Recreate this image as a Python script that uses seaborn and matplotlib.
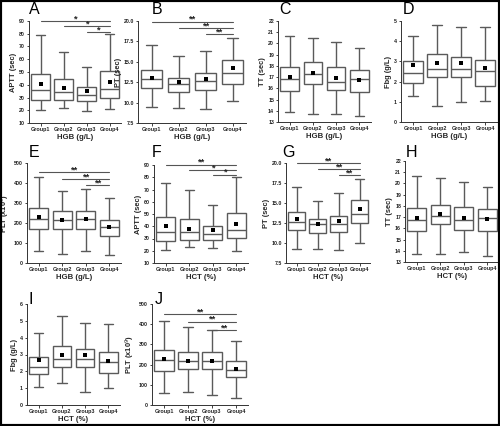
import matplotlib
matplotlib.use("Agg")
import matplotlib.pyplot as plt
from matplotlib.patches import Rectangle
import seaborn as sns
import pandas as pd
import numpy as np

groups = ["Group1", "Group2", "Group3", "Group4"]

# ---- Panel A: APTT vs HGB ----
A_lo = [20.5, 21.6, 19.5, 21.3]
A_q1 = [27.9, 28.4, 27.4, 29.7]
A_med = [35.8, 34.7, 32.1, 36.5]
A_q3 = [48.4, 44.2, 38.4, 50.5]
A_hi = [78.7, 65.5, 54.2, 79.5]
A_mean = [40.5, 37.6, 35.0, 41.8]
A_sig_y = [90, 86, 81]
A_sig_txt = ["*", "*", "*"]

# ---- Panel B: PT vs HGB ----
B_lo = [9.4, 9.34, 9.2, 10.15]
B_q1 = [11.8, 11.25, 11.6, 12.24]
B_med = [12.85, 12.3, 12.6, 13.6]
B_q3 = [13.95, 13.05, 13.67, 15.18]
B_hi = [17.1, 15.67, 16.3, 17.9]
B_mean = [13.05, 12.48, 12.9, 14.2]
B_sig_y = [19.9, 19.1, 18.35]
B_sig_txt = ["**", "**", "**"]

# ---- Panel C: TT vs HGB ----
C_lo = [13.9, 13.68, 13.68, 13.53]
C_q1 = [15.75, 16.43, 15.85, 15.66]
C_med = [16.85, 17.32, 16.6, 16.8]
C_q3 = [17.9, 18.33, 17.9, 17.6]
C_hi = [20.7, 20.5, 20.1, 19.6]
C_mean = [17.0, 17.35, 16.95, 16.72]

# ---- Panel D: Fbg vs HGB ----
D_lo = [1.3, 0.8, 1.0, 1.02]
D_q1 = [1.92, 2.24, 2.21, 1.79]
D_med = [2.41, 2.6, 2.64, 2.54]
D_q3 = [3.0, 3.36, 3.23, 3.06]
D_hi = [4.26, 4.82, 4.7, 4.7]
D_mean = [2.8, 2.9, 2.93, 2.65]

# ---- Panel E: PLT vs HGB ----
E_lo = [58, 45, 60, 40]
E_q1 = [170, 169, 170, 137]
E_med = [222, 215, 218, 179]
E_q3 = [276, 262, 258, 215]
E_hi = [430, 362, 371, 325]
E_mean = [230, 216, 218, 180]
E_sig_y = [453, 420, 390]
E_sig_txt = ["**", "**", "**"]

# ---- Panel F: APTT vs HCT ----
F_lo = [20.8, 22.7, 22.2, 20.0]
F_q1 = [28.2, 28.4, 29.0, 30.3]
F_med = [35.0, 35.0, 33.9, 37.1]
F_q3 = [47.4, 46.0, 40.6, 50.7]
F_hi = [75.1, 69.7, 57.5, 80.0]
F_mean = [39.8, 37.7, 36.6, 41.7]
F_sig_y = [90.3, 86, 82]
F_sig_txt = ["**", "*", "*"]

# ---- Panel G: PT vs HCT ----
G_lo = [9.3, 9.2, 9.1, 10.0]
G_q1 = [11.6, 11.25, 11.4, 12.5]
G_med = [12.6, 12.4, 12.4, 13.67]
G_q3 = [13.9, 12.96, 13.33, 15.33]
G_hi = [17.0, 15.25, 16.2, 18.0]
G_mean = [12.96, 12.4, 12.75, 14.25]
G_sig_y = [20.0, 19.25, 18.5]
G_sig_txt = ["**", "**", "**"]

# ---- Panel H: TT vs HCT ----
H_lo = [13.68, 13.68, 13.86, 13.56]
H_q1 = [15.73, 16.36, 15.82, 15.73]
H_med = [16.7, 17.1, 16.77, 16.95]
H_q3 = [17.8, 18.1, 17.9, 17.72]
H_hi = [20.7, 20.5, 20.1, 19.7]
H_mean = [16.9, 17.25, 16.92, 16.8]

# ---- Panel I: Fbg vs HCT ----
I_lo = [1.05, 1.29, 0.8, 1.0]
I_q1 = [1.84, 2.28, 2.28, 1.88]
I_med = [2.24, 2.75, 2.73, 2.55]
I_q3 = [2.87, 3.5, 3.3, 3.15]
I_hi = [4.3, 5.29, 4.85, 4.8]
I_mean = [2.68, 3.0, 2.97, 2.63]

# ---- Panel J: PLT vs HCT ----
J_lo = [58, 63, 50, 36]
J_q1 = [168, 178, 177, 137]
J_med = [221, 219, 218, 173]
J_q3 = [271, 264, 264, 216]
J_hi = [416, 384, 371, 318]
J_mean = [226, 220, 220, 180]
J_sig_y = [449, 412, 371]
J_sig_txt = ["**", "**", "**"]

# y ticks
ticks_APTT = [10, 20, 30, 40, 50, 60, 70, 80, 90]
ticks_PT = [7.5, 10.0, 12.5, 15.0, 17.5, 20.0]
ticks_TT = [13, 14, 15, 16, 17, 18, 19, 20, 21, 22]
ticks_Fbg5 = [0, 1, 2, 3, 4, 5]
ticks_Fbg6 = [0, 1, 2, 3, 4, 5, 6]
ticks_PLT = [0, 100, 200, 300, 400, 500]

sns.set_theme(style="ticks")
plt.rcParams["font.family"] = ["Liberation Sans", "DejaVu Sans"]

W, H = 500, 426
fig = plt.figure(figsize=(W / 100, H / 100), dpi=100)
fig.patch.set_facecolor("white")

box_col = "#5a5a5a"

panels = [
    ("A", (A_lo, A_q1, A_med, A_q3, A_hi, A_mean), ticks_APTT, "{:.0f}", "APTT (sec)", "HGB (g/L)", (29, 121, 21, 123), (29, 2), (A_sig_y, A_sig_txt)),
    ("B", (B_lo, B_q1, B_med, B_q3, B_hi, B_mean), ticks_PT, "{:.1f}", "PT (sec)", "HGB (g/L)", (138, 246, 21, 123), (152, 2), (B_sig_y, B_sig_txt)),
    ("C", (C_lo, C_q1, C_med, C_q3, C_hi, C_mean), ticks_TT, "{:.0f}", "TT (sec)", "HGB (g/L)", (278, 371, 21, 122), (279, 2), None),
    ("D", (D_lo, D_q1, D_med, D_q3, D_hi, D_mean), ticks_Fbg5, "{:.0f}", "Fbg (g/L)", "HGB (g/L)", (401, 497, 21, 122), (403, 2), None),
    ("E", (E_lo, E_q1, E_med, E_q3, E_hi, E_mean), ticks_PLT, "{:.0f}", "PLT (x10$^{9}$)", "HGB (g/L)", (27, 121, 163, 263), (29, 145), (E_sig_y, E_sig_txt)),
    ("F", (F_lo, F_q1, F_med, F_q3, F_hi, F_mean), ticks_APTT, "{:.0f}", "APTT (sec)", "HCT (%)", (154, 248, 165, 263), (152, 145), (F_sig_y, F_sig_txt)),
    ("G", (G_lo, G_q1, G_med, G_q3, G_hi, G_mean), ticks_PT, "{:.1f}", "PT (sec)", "HCT (%)", (286, 370, 163, 263), (282, 145), (G_sig_y, G_sig_txt)),
    ("H", (H_lo, H_q1, H_med, H_q3, H_hi, H_mean), ticks_TT, "{:.0f}", "TT (sec)", "HCT (%)", (405, 499, 161, 262), (406, 145), None),
    ("I", (I_lo, I_q1, I_med, I_q3, I_hi, I_mean), ticks_Fbg6, "{:.0f}", "Fbg (g/L)", "HCT (%)", (27, 120, 304, 405), (29, 292), None),
    ("J", (J_lo, J_q1, J_med, J_q3, J_hi, J_mean), ticks_PLT, "{:.0f}", "PLT (x10$^{9}$)", "HCT (%)", (152, 248, 304, 405), (155, 292), (J_sig_y, J_sig_txt)),
]

for letter, stats, ticks, fmt, ylab, xlab, (x0, x1, y0, y1), (lx, ly), sig in panels:
    lo, q1, med, q3, hi, mean = stats
    ax = fig.add_axes([x0 / W, 1 - y1 / H, (x1 - x0) / W, (y1 - y0) / H])
    rows = []
    for g, a, b, c, d, e in zip(groups, lo, q1, med, q3, hi):
        for v in (a, b, c, d, e):
            rows.append({"group": g, "value": v})
    df = pd.DataFrame(rows)
    sns.boxplot(data=df, x="group", y="value", order=groups, whis=(0, 100),
                width=0.8, color="white", linecolor=box_col, linewidth=1.0,
                fill=True, ax=ax, showcaps=True)
    ax.scatter(range(4), mean, marker="s", s=7, color="black", zorder=6, linewidths=0)
    ax.set_xlim(-0.5, 3.5)
    ax.set_ylim(ticks[0], ticks[-1])
    ax.set_yticks(ticks)
    ax.set_yticklabels([fmt.format(t) for t in ticks], fontsize=3.8, fontweight="bold")
    ax.set_xticks(range(4))
    ax.set_xticklabels(groups, fontsize=3.9, fontweight="bold")
    ax.tick_params(axis="both", length=1.8, width=0.6, pad=1.0, colors="#222222")
    ax.set_ylabel(ylab, fontsize=5.4, fontweight="bold", labelpad=1.5)
    ax.set_xlabel(xlab, fontsize=5.6, fontweight="bold", labelpad=1.5)
    for s in ("top", "right"):
        ax.spines[s].set_visible(False)
    for s in ("left", "bottom"):
        ax.spines[s].set_linewidth(0.7)
        ax.spines[s].set_color("#333333")
    ax.set_facecolor("white")
    if sig is not None:
        ys, txts = sig
        for start, yv, t in zip([0, 1, 2], ys, txts):
            ax.plot([start, 3], [yv, yv], color="#555555", lw=0.8, clip_on=False, zorder=7)
            ax.annotate(t, xy=((start + 3) / 2, yv), xytext=(0, -1.6), textcoords="offset points",
                        ha="center", va="bottom", fontsize=6.8, zorder=8,
                        fontweight="bold", color="#222222", annotation_clip=False)
    fig.text(lx / W, 1 - ly / H, letter, fontsize=11.5, ha="left", va="top", color="black")

fig.patches.append(Rectangle((0, 0), 1, 1, transform=fig.transFigure, fill=False,
                             lw=3, edgecolor="black", zorder=10))

fig.savefig("out.png", dpi=100, facecolor="white")
